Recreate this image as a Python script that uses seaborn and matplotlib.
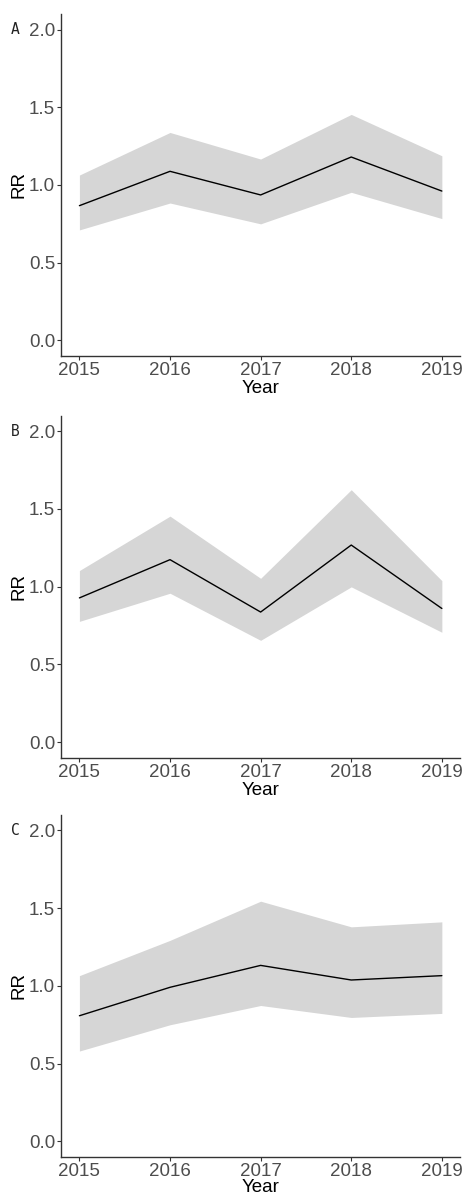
import matplotlib
matplotlib.use("Agg")
import matplotlib.pyplot as plt
import seaborn as sns
import pandas as pd

years = [2015, 2016, 2017, 2018, 2019]

rr_a = [0.867, 1.088, 0.936, 1.180, 0.961]
lo_a = [0.711, 0.884, 0.750, 0.953, 0.784]
hi_a = [1.064, 1.338, 1.167, 1.454, 1.188]

rr_b = [0.928, 1.174, 0.837, 1.268, 0.860]
lo_b = [0.777, 0.958, 0.655, 0.999, 0.707]
hi_b = [1.104, 1.454, 1.054, 1.624, 1.039]

rr_c = [0.808, 0.991, 1.132, 1.038, 1.066]
lo_c = [0.581, 0.750, 0.874, 0.797, 0.823]
hi_c = [1.066, 1.293, 1.545, 1.380, 1.412]

panel_labels = ["A", "B", "C"]
y_ticks = [0.0, 0.5, 1.0, 1.5, 2.0]

sns.set_theme(style="ticks")
plt.rcParams["font.family"] = ["Liberation Sans", "DejaVu Sans"]

fig = plt.figure(figsize=(4.65, 11.97), dpi=100)

panels = [(rr_a, lo_a, hi_a), (rr_b, lo_b, hi_b), (rr_c, lo_c, hi_c)]
bottoms = [0.7026, 0.3670, 0.0335]
xlabel_pads = [0.5, 0.5, -0.5]
left, width, height = 0.1318, 0.8574, 0.2857

for (rr, lo, hi), bottom, pad, lab in zip(panels, bottoms, xlabel_pads, panel_labels):
    ax = fig.add_axes([left, bottom, width, height])
    df = pd.DataFrame({"Year": years, "RR": rr, "lo": lo, "hi": hi})
    ax.fill_between(df["Year"], df["lo"], df["hi"], color="#d6d6d6", linewidth=0, zorder=1)
    sns.lineplot(data=df, x="Year", y="RR", ax=ax, color="black", linewidth=1.0, zorder=2)
    ax.set_xlim(2014.8, 2019.2)
    ax.set_ylim(-0.1, 2.1)
    ax.set_xticks(years)
    ax.set_xticklabels([str(y) for y in years])
    ax.set_yticks(y_ticks)
    ax.set_yticklabels([f"{v:.1f}" for v in y_ticks])
    ax.tick_params(axis="both", labelsize=13.5, labelcolor="#4d4d4d",
                   color="#333333", length=3.0, width=0.8, pad=1.5)
    ax.set_xlabel("Year", fontsize=13.5, color="black", labelpad=pad)
    ax.set_ylabel("RR", fontsize=13.5, color="black", labelpad=1)
    for side in ["top", "right"]:
        ax.spines[side].set_visible(False)
    for side in ["left", "bottom"]:
        ax.spines[side].set_color("#333333")
        ax.spines[side].set_linewidth(1.0)
    ax.grid(False)
    # panel tag placed level with the top y tick
    fig.text(15 / 465, ax.transData.transform((2015, 2.0))[1] / fig.bbox.height,
             lab, fontsize=10.5, family="DejaVu Sans Mono", color="#222222",
             ha="center", va="center")

fig.savefig("out.png", dpi=100)
